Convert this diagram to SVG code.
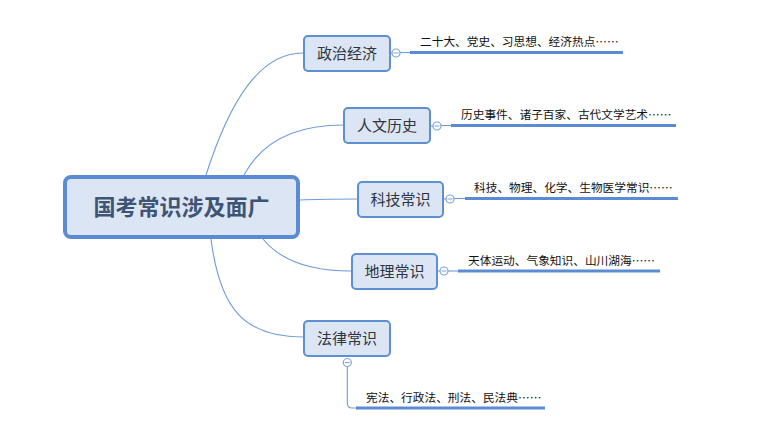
<svg xmlns="http://www.w3.org/2000/svg" width="776" height="427" viewBox="0 0 776 427">
<style>
.bg{fill:#ffffff}
.node rect{fill:#dbe5f3;stroke:#5f8fd3;stroke-width:2}
.center rect{fill:#dbe5f3;stroke:#5b8bd3;stroke-width:4}
.nt{font-family:"Noto Sans CJK SC","Liberation Sans",sans-serif;font-size:15px;fill:#2e3440;text-anchor:middle}
.ct{font-family:"Noto Sans CJK SC","Liberation Sans",sans-serif;font-size:22px;font-weight:bold;fill:#3d5475;text-anchor:middle}
.lt{font-family:"Noto Sans CJK SC","Liberation Sans",sans-serif;font-size:11.7px;fill:#111111}
.conn path,.conn line{fill:none;stroke:#6f9bd8;stroke-width:1.1}
.conn .thick{stroke:#5b8bd3;stroke-width:3}
.tog circle{fill:#ffffff;stroke:#7ea4d9;stroke-width:1.2}
.tog line{stroke:#7ea4d9;stroke-width:1}
</style>
<rect class="bg" x="0" y="0" width="776" height="427"/>
<g id="connectors" class="conn">
<path d="M206,175 C230,100 260,53 303,53"/>
<path d="M244,175 C260,145 290,125 343,125"/>
<path d="M300,200 C320,199 340,199 357,199"/>
<path d="M263,239 C280,260 310,271 351,271"/>
<path d="M211,239 C220,310 245,337 303,337"/>
<line x1="391" y1="53" x2="392" y2="53"/>
<line x1="400" y1="52.5" x2="410" y2="52.5"/>
<line class="thick" x1="410" y1="52.5" x2="623" y2="52.5"/>
<line x1="431" y1="126" x2="433" y2="126"/>
<line x1="441" y1="125.5" x2="451" y2="125.5"/>
<line class="thick" x1="451" y1="125.5" x2="676" y2="125.5"/>
<line x1="444" y1="199" x2="446" y2="199"/>
<line x1="454" y1="198.5" x2="465" y2="198.5"/>
<line class="thick" x1="465" y1="198.5" x2="678" y2="198.5"/>
<line x1="438" y1="271" x2="440" y2="271"/>
<line x1="448" y1="271" x2="458" y2="271"/>
<line class="thick" x1="458" y1="271" x2="660" y2="271"/>
<path d="M347.3,366.5 L347.3,403 Q347.3,408 352.3,408 L356,408"/>
<line class="thick" x1="356" y1="408" x2="545" y2="408"/>
</g>
<g id="center" class="center">
<rect x="65" y="177" width="233" height="60" rx="6"/>
<text class="ct" x="181.5" y="215">国考常识涉及面广</text>
</g>
<g id="n1" class="node">
<rect x="304" y="36" width="86" height="35" rx="4"/>
<text class="nt" x="347" y="59">政治经济</text>
</g>
<g id="n2" class="node">
<rect x="344" y="108" width="86" height="35" rx="4"/>
<text class="nt" x="387" y="131">人文历史</text>
</g>
<g id="n3" class="node">
<rect x="358" y="182" width="85" height="35" rx="4"/>
<text class="nt" x="400.5" y="205">科技常识</text>
</g>
<g id="n4" class="node">
<rect x="352" y="254" width="85" height="35" rx="4"/>
<text class="nt" x="394.5" y="277">地理常识</text>
</g>
<g id="n5" class="node">
<rect x="304" y="321" width="86" height="35" rx="4"/>
<text class="nt" x="347" y="344">法律常识</text>
</g>
<g id="toggles" class="tog">
<g id="t1"><circle cx="396" cy="53" r="4"/><line x1="393.5" y1="53" x2="398.5" y2="53"/></g>
<g id="t2"><circle cx="437" cy="126" r="4"/><line x1="434.5" y1="126" x2="439.5" y2="126"/></g>
<g id="t3"><circle cx="450" cy="199" r="4"/><line x1="447.5" y1="199" x2="452.5" y2="199"/></g>
<g id="t4"><circle cx="444" cy="271" r="4"/><line x1="441.5" y1="271" x2="446.5" y2="271"/></g>
<g id="t5"><circle cx="347.3" cy="362.5" r="4"/><line x1="344.8" y1="362.5" x2="349.8" y2="362.5"/></g>
</g>
<g id="labels">
<text id="l1" class="lt" x="420" y="46">二十大、党史、习思想、经济热点……</text>
<text id="l2" class="lt" x="461" y="119">历史事件、诸子百家、古代文学艺术……</text>
<text id="l3" class="lt" x="474" y="192">科技、物理、化学、生物医学常识……</text>
<text id="l4" class="lt" x="468" y="264.5">天体运动、气象知识、山川湖海……</text>
<text id="l5" class="lt" x="366" y="402">宪法、行政法、刑法、民法典……</text>
</g>
</svg>
